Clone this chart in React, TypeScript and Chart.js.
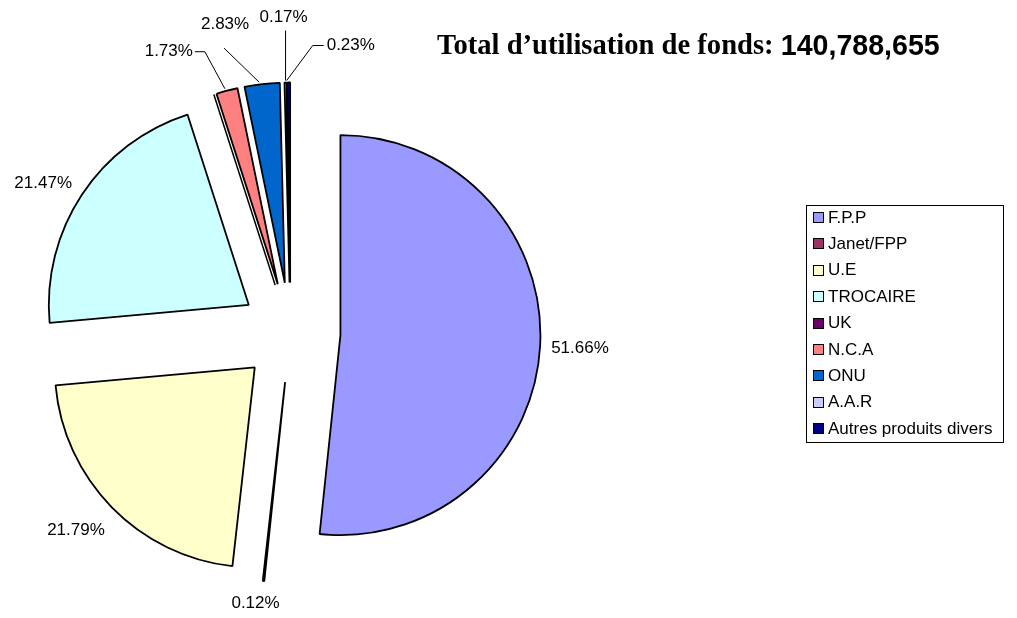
import React, { useEffect, useRef } from 'react';
import { Chart, registerables } from 'chart.js';

Chart.register(...registerables);

// ---- data ----
const categories = ['F.P.P', 'Janet/FPP', 'U.E', 'TROCAIRE', 'UK', 'N.C.A', 'ONU', 'A.A.R', 'Autres produits divers'];
const shares = [51.66, 0.12, 21.79, 21.47, 0, 1.73, 2.83, 0.17, 0.23];
const titleText = 'Total d\u2019utilisation de fonds: ';
const totalFunds = '140,788,655';
const sliceColors = ['#9999FF', '#993366', '#FFFFCC', '#CCFFFF', '#660066', '#FF8080', '#0066CC', '#CCCCFF', '#000080'];

// ---- layout / style (relative to each slice's outer point) ----
const EXPLODE = 50;
type LabelLayout = { dx: number; dy: number; align: CanvasTextAlign; leader?: [number, number][] } | null;
const labelLayout: LabelLayout[] = [
  { dx: 11, dy: 3, align: 'left' },
  { dx: -8, dy: 22, align: 'center' },
  { dx: -7, dy: 23, align: 'right' },
  { dx: -10, dy: -11, align: 'right' },
  null,
  { dx: -34, dy: -39, align: 'right', leader: [[-2, -2], [-22, -39], [-32, -39]] },
  { dx: -37, dy: -60, align: 'center', leader: [[-3, -2], [-38, -36]] },
  { dx: -2, dy: -65, align: 'center', leader: [[0, -2], [0, -52]] },
  { dx: 38, dy: -37, align: 'left', leader: [[-2, -2], [24, -37], [35, -37]] },
];

const LABEL_FONT = '17px "Liberation Sans", Arial, sans-serif';
const BORDER_W = 1.8;

const explodePlugin = {
  id: 'explodePie',
  beforeDatasetsDraw(chart: any) {
    const ctx = chart.ctx as CanvasRenderingContext2D;
    const meta = chart.getDatasetMeta(0);
    meta.data.forEach((arc: any) => {
      const { x, y, startAngle, endAngle, outerRadius } = arc.getProps(['x', 'y', 'startAngle', 'endAngle', 'outerRadius'], true);
      const mid = (startAngle + endAngle) / 2;
      ctx.save();
      ctx.translate(Math.cos(mid) * EXPLODE, Math.sin(mid) * EXPLODE);
      if (endAngle - startAngle <= 0) {
        ctx.beginPath();
        ctx.moveTo(x, y);
        ctx.lineTo(x + Math.cos(startAngle) * outerRadius, y + Math.sin(startAngle) * outerRadius);
        ctx.strokeStyle = '#000';
        ctx.lineWidth = 1.5;
        ctx.stroke();
      } else {
        arc.draw(ctx);
      }
      ctx.restore();
    });
    return false;
  },
  afterDraw(chart: any) {
    const ctx = chart.ctx as CanvasRenderingContext2D;
    const meta = chart.getDatasetMeta(0);
    const values: number[] = chart.data.datasets[0].data;
    const total = values.reduce((a, b) => a + b, 0);

    // percentage labels
    ctx.save();
    ctx.font = LABEL_FONT;
    ctx.fillStyle = '#000';
    ctx.textBaseline = 'middle';
    meta.data.forEach((arc: any, i: number) => {
      const lay = labelLayout[i];
      if (!lay) return;
      const { x, y, startAngle, endAngle, outerRadius } = arc.getProps(['x', 'y', 'startAngle', 'endAngle', 'outerRadius'], true);
      const mid = (startAngle + endAngle) / 2;
      const px = x + Math.cos(mid) * (EXPLODE + outerRadius);
      const py = y + Math.sin(mid) * (EXPLODE + outerRadius);
      if (lay.leader) {
        ctx.beginPath();
        lay.leader.forEach(([lx, ly], k) => {
          if (k === 0) ctx.moveTo(px + lx, py + ly);
          else ctx.lineTo(px + lx, py + ly);
        });
        ctx.strokeStyle = '#000';
        ctx.lineWidth = 1;
        ctx.stroke();
      }
      ctx.textAlign = lay.align;
      const txt = ((values[i] / total) * 100).toFixed(2) + '%';
      ctx.fillText(txt, px + lay.dx, py + lay.dy);
    });
    ctx.restore();

    // title
    ctx.save();
    ctx.textBaseline = 'middle';
    ctx.textAlign = 'left';
    ctx.fillStyle = '#000';
    ctx.font = 'bold 28.6px "Liberation Serif", "Times New Roman", serif';
    const tx = 437;
    const ty = 47;
    ctx.fillText(titleText, tx, ty);
    const w = ctx.measureText(titleText).width;
    ctx.font = 'bold 28.6px "Liberation Sans", Arial, sans-serif';
    ctx.fillText(totalFunds, tx + w, ty);
    ctx.restore();

    // legend
    ctx.save();
    const bx = 806.5, by = 205.5, bw = 197, bh = 237;
    ctx.strokeStyle = '#000';
    ctx.lineWidth = 1;
    ctx.fillStyle = '#fff';
    ctx.fillRect(bx, by, bw, bh);
    ctx.strokeRect(bx, by, bw, bh);
    ctx.font = LABEL_FONT;
    ctx.textBaseline = 'middle';
    ctx.textAlign = 'left';
    const labels: string[] = chart.data.labels;
    const colors: string[] = chart.data.datasets[0].backgroundColor;
    labels.forEach((lab, i) => {
      const ry = 218 + i * 26.4;
      ctx.fillStyle = colors[i];
      ctx.fillRect(813, Math.round(ry - 6), 11, 11);
      ctx.strokeStyle = '#000';
      ctx.lineWidth = 1;
      ctx.strokeRect(813.5, Math.round(ry - 6) + 0.5, 10, 10);
      ctx.fillStyle = '#000';
      ctx.fillText(lab, 828, ry);
    });
    ctx.restore();
  },
};

export default function App() {
  const canvasRef = useRef<HTMLCanvasElement>(null);

  useEffect(() => {
    document.body.style.margin = '0';
    const canvas = canvasRef.current;
    if (!canvas) return;
    const chart = new Chart(canvas, {
      type: 'pie',
      data: {
        labels: categories,
        datasets: [
          {
            data: shares,
            backgroundColor: sliceColors,
            borderColor: '#000',
            borderWidth: BORDER_W,
            offset: 0,
          },
        ],
      },
      options: {
        responsive: false,
        animation: false,
        events: [],
        radius: 200,
        layout: { padding: { left: 0, right: 436, top: 47, bottom: 0 } },
        plugins: {
          legend: { display: false },
          title: { display: false },
          tooltip: { enabled: false },
        },
      } as any,
      plugins: [explodePlugin],
    });
    return () => chart.destroy();
  }, []);

  return (
    <div style={{ width: 1017, height: 618, background: '#fff' }}>
      <canvas ref={canvasRef} width={1017} height={618} style={{ display: 'block', width: 1017, height: 618 }} />
    </div>
  );
}
